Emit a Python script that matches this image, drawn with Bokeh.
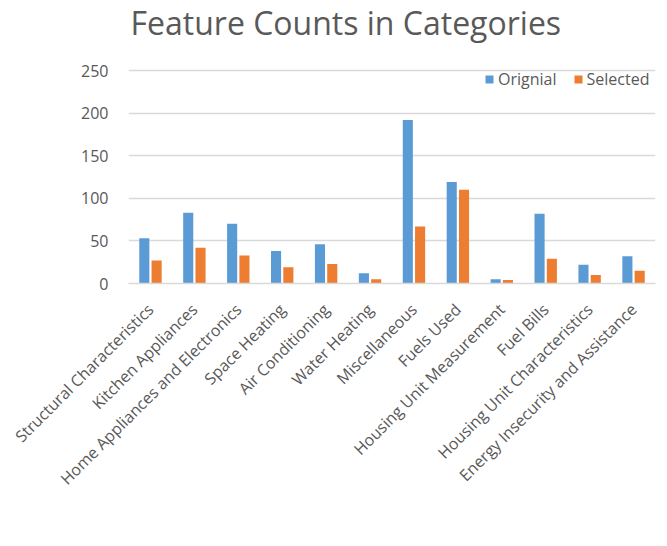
import math
from bokeh.plotting import figure
from bokeh.models import ColumnDataSource, FactorRange, Range1d, Legend, LegendItem, FixedTicker, Label
from bokeh.transform import dodge
from bokeh.embed import file_html
from bokeh.resources import INLINE

categories = ["Structural Characteristics", "Kitchen Appliances", "Home Appliances and Electronics",
              "Space Heating", "Air Conditioning", "Water Heating", "Miscellaneous", "Fuels Used",
              "Housing Unit Measurement", "Fuel Bills", "Housing Unit Characteristics",
              "Energy Insecurity and Assistance"]
original = [53, 83, 70, 38, 46, 12, 192, 119, 5, 82, 22, 32]
selected = [27, 42, 33, 19, 23, 5, 67, 110, 4, 29, 10, 15]
y_ticks = [0, 50, 100, 150, 200, 250]

FONT = "Open Sans"
GRAY = "#595959"

# plot area in the reference: gridline 250 at 70px, zero at 283px; the frame is extended
# up to the top of the canvas so that the title can sit inside it
PLOT_TOP_PX = 70
ZERO_PX = 283
y_max = y_ticks[-1] * ZERO_PX / (ZERO_PX - PLOT_TOP_PX)

src = ColumnDataSource(dict(cat=categories, orig=original, sel=selected))

p = figure(x_range=FactorRange(*categories, range_padding=0), y_range=Range1d(0, y_max),
           frame_width=527, frame_height=ZERO_PX, output_backend="svg", toolbar_location=None,
           min_border_left=128, min_border_right=4, min_border_top=0, min_border_bottom=250)

r1 = p.vbar(x=dodge("cat", -0.14, range=p.x_range), top="orig", width=0.23, source=src,
            color="#5B9BD5", line_color=None)
r2 = p.vbar(x=dodge("cat", 0.14, range=p.x_range), top="sel", width=0.23, source=src,
            color="#ED7D31", line_color=None)

title = Label(x=2, y=ZERO_PX - 22, x_units="screen", y_units="screen",
              text="Feature Counts in Categories",
              text_align="left", text_baseline="middle", text_font=FONT,
              text_font_size="32px", text_color=GRAY)
p.add_layout(title)

p.outline_line_color = None
p.xgrid.grid_line_color = None
p.ygrid.grid_line_color = "#d9d9d9"
p.ygrid.grid_line_width = 1.5
p.yaxis.ticker = FixedTicker(ticks=y_ticks)
p.yaxis.axis_line_color = None
p.yaxis.major_tick_line_color = None
p.yaxis.minor_tick_line_color = None
p.yaxis.major_label_text_font = FONT
p.yaxis.major_label_text_font_size = "16px"
p.yaxis.major_label_text_color = GRAY
p.yaxis.major_label_standoff = 14

p.xaxis.axis_line_color = "#d9d9d9"
p.xaxis.axis_line_width = 1.5
p.xaxis.major_tick_line_color = None
p.xaxis.minor_tick_line_color = None
p.xaxis.major_label_orientation = math.pi / 4
p.xaxis.major_label_text_font = FONT
p.xaxis.major_label_text_font_size = "16px"
p.xaxis.major_label_text_color = GRAY
p.xaxis.major_label_standoff = 17

legend = Legend(items=[LegendItem(label="Orignial", renderers=[r1]),
                       LegendItem(label="Selected", renderers=[r2])],
                orientation="horizontal", location=(356, ZERO_PX - PLOT_TOP_PX - 20),
                background_fill_alpha=0, border_line_color=None,
                label_text_font=FONT, label_text_font_size="16px", label_text_color=GRAY,
                glyph_width=10, glyph_height=10, spacing=16, label_standoff=4,
                margin=0, padding=0)
p.add_layout(legend)

open("out.html", "w").write(file_html(p, INLINE))
